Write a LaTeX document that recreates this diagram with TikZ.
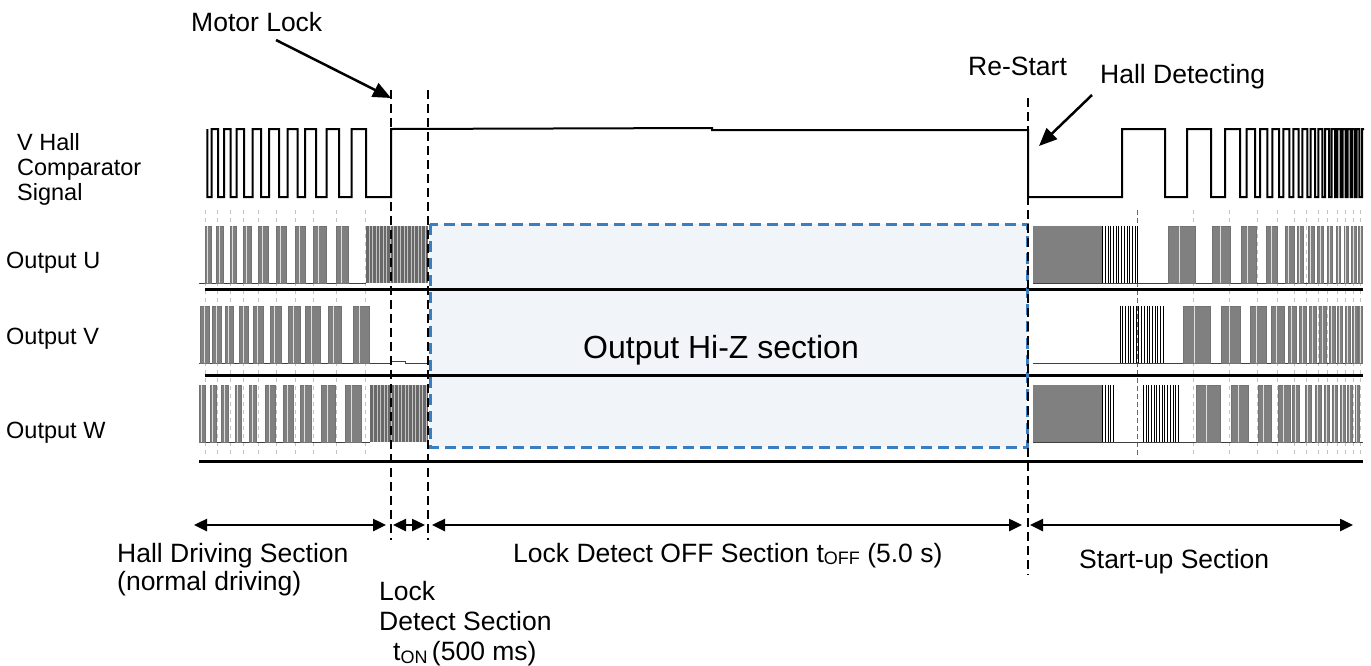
\documentclass[tikz,border=0pt]{standalone}
\usepackage{fontspec}
\setmainfont{Liberation Sans}
\usetikzlibrary{arrows.meta}
\definecolor{pwmgray}{RGB}{128,128,128}
\definecolor{densegray}{RGB}{105,105,105}
\definecolor{hizfill}{RGB}{241,245,250}
\definecolor{hizblue}{RGB}{58,125,192}
\definecolor{gridgray}{RGB}{195,195,195}
% #1 top, #2 bottom, #3 list a/b
\newcommand{\pwmrow}[3]{\foreach \a/\b in {#3}{%
  \filldraw[pwmburst] (\a,#1) rectangle (\b,#2);
  \draw[pwmhi] ({\a+0.4*(\b-\a)},#1) -- ({\a+0.4*(\b-\a)},#2);}}
% #1 top, #2 bottom, #3 a, #4 b : black line block
\newcommand{\lineblk}[4]{\pgfmathtruncatemacro{\nlinesblk}{(#4-#3)/2.7}%
  \foreach \i in {0,...,\nlinesblk}{\draw[blkline] ({#3+\i*2.7},#1) -- ({#3+\i*2.7},#2);}}
% #1 top, #2 bottom, #3 a, #4 b : dense gray block
\newcommand{\denseblk}[4]{\fill[densegray] (#3,#1) rectangle (#4,#2);
  \pgfmathtruncatemacro{\ndenseblk}{(#4-#3)/3.5}%
  \foreach \i in {1,...,\ndenseblk}{\draw[densehi] ({#3+\i*3.5},#1) -- ({#3+\i*3.5},#2);}}
\begin{document}
\begin{tikzpicture}[x=1pt,y=-1pt,
  sig/.style={line width=2pt,black,line join=miter},
  sep/.style={line width=3pt,black},
  base/.style={line width=1pt,black!75},
  vdash/.style={line width=2pt,black,dash pattern=on 9pt off 5pt},
  gridln/.style={line width=0.7pt,gridgray,dash pattern=on 4pt off 4pt},
  gridlndark/.style={line width=0.9pt,black!60,dash pattern=on 5pt off 3pt},
  pwmburst/.style={fill=pwmgray,draw=black!55,line width=0.5pt},
  pwmhi/.style={line width=0.7pt,white!75!pwmgray},
  blkline/.style={line width=0.9pt,black},
  densehi/.style={line width=0.6pt,white!60!densegray},
  hizbox/.style={draw=hizblue,fill=hizfill,line width=3pt,dash pattern=on 11pt off 6pt},
  dim/.style={line width=2.5pt,{Triangle[length=13pt,width=12pt]}-{Triangle[length=13pt,width=12pt]}},
  ann/.style={line width=2.5pt,-{Triangle[length=18pt,width=15pt]}},
  lblbig/.style={anchor=base west,inner sep=0pt,font=\fontsize{26.5}{30}\selectfont},
  lblsm/.style={anchor=base west,inner sep=0pt,font=\fontsize{23.5}{27}\selectfont},
  lblhiz/.style={anchor=base west,inner sep=0pt,font=\fontsize{32}{36}\selectfont}]
\useasboundingbox (0,0) rectangle (1371,665);

% Hi-Z box fill
\fill[hizfill] (430,224) rectangle (1027,447);

% faint grid lines
\foreach \x in {205,217.3,230,243.3,258.3,276,295,313.3,336.7,365.7,1193,1229,1257,1277,1294,1306,1318,1327,1337,1345,1353,1360}
  {\draw[gridln] (\x,210) -- (\x,458);}
\draw[gridlndark] (1137,210) -- (1137,458);

% ---------- Output U (226..283)
\draw[base] (199,283) -- (366,283);
\pwmrow{226}{283}{205/211.7,216.7/223.3,230/236.7,243.3/251.7,258.3/268.3,276/286.7,295/305,313.3/326.7,336.7/348.3}
\denseblk{226}{283}{365.7}{428}
\draw[base] (1033,283) -- (1363,283);
\fill[pwmgray] (1032.7,226) rectangle (1102.7,283);
\lineblk{226}{283}{1102.7}{1138.3}
\pwmrow{226}{283}{1168.3/1195,1212.7/1230.7,1241.7/1256.7,1266.7/1277.7,1285/1294,1297.3/1303.3,1308.3/1314,1317.7/1323.3,1327.3/1332.3,1336/1340.7,1344/1348.3,1351.7/1356,1358.3/1362.7}

% ---------- Output V (306..363)
\draw[base] (199,363) -- (391,363) -- (391,361.5) -- (405,361.5) -- (405,363) -- (428,363);
\pwmrow{306}{363}{200.7/209.3,212.7/221.7,225/233.3,239.3/248.3,253.3/263.3,270/281.7,288.3/300,305/320,328.3/341.7,353.3/369.3}
\draw[base] (1033,363) -- (1363,363);
\lineblk{306}{363}{1120}{1163.3}
\pwmrow{306}{363}{1183.3/1210,1221.7/1240.7,1250/1266,1271.7/1284,1288.3/1296,1299.3/1306,1309.3/1316,1319.3/1326,1329.3/1335,1337.3/1342.7,1345/1350,1352.7/1357.7,1358.3/1362.7}

% ---------- Output W (385..442)
\draw[base] (199,442) -- (370,442);
\pwmrow{385}{442}{199.3/205,210/216,221.7/228.3,235/241.7,249.3/256.7,265/275,283.3/293.3,300/311.7,321.7/335,345/361.7}
\denseblk{385}{442}{370}{428}
\draw[base] (1033,442) -- (1363,442);
\fill[pwmgray] (1032.7,385) rectangle (1102.7,442);
\lineblk{385}{442}{1102.7}{1115}
\lineblk{385}{442}{1143.3}{1180}
\pwmrow{385}{442}{1196.7/1220,1231.7/1248.3,1258.3/1271.7,1278.3/1290,1292.7/1299.3,1305/1311.7,1315/1321,1324/1329.3,1332.7/1337.3,1340/1345,1347.7/1352.3,1355/1359.3}

% separators
\draw[sep] (205,289) -- (1363,289);
\draw[sep] (205,375) -- (1363,375);
\draw[sep] (199,461) -- (1363,461);

% Hi-Z box border and text
\draw[hizbox,fill=none] (430,224) rectangle (1027,447);
\node[lblhiz] (hiz) at (583,358) {Output Hi-Z section};

% ---------- V Hall comparator signal
\draw[sig] (207.3,129)
  \foreach \f/\r in {207.3/211.7,218/224,230.5/236.7,244.2/252.5,261/269,279/287.5,297.5/305,316/326.7,339/351.7,366/391}
   { -- (\f,129) -- (\f,197) -- (\r,197) -- (\r,129) }
  -- (712,128) -- (712,130) -- (1028,130) -- (1028,197) -- (1120,197)
  \foreach \r/\f in {1122/1165,1187/1211,1225/1240,1246.7/1255,1260/1267.3,1272.3/1279,1283.3/1289.3,1293.3/1298.7,1302.3/1307.3,1310.7/1315,1318.3/1322.3,1325/1329,1331.7/1335,1337.3/1340.7,1342.7/1345.7,1347.7/1350.7,1352.3/1355,1356.7/1359.3}
   { -- (\r,197) -- (\r,129) -- (\f,129) -- (\f,197) }
  -- (1362,197) -- (1362,129) -- (1364,129);

% ---------- dashed time markers
\coordinate (lockT) at (391,90);   \coordinate (lockB) at (391,540);
\coordinate (detT) at (428,90);    \coordinate (detB) at (428,540);
\coordinate (rsT) at (1028,98);    \coordinate (rsB) at (1028,575);
\draw[vdash] (lockT) -- (lockB);
\draw[vdash] (detT) -- (detB);
\draw[vdash] (rsT) -- (rsB);

% ---------- dimension arrows
\coordinate (hdL) at (194,525);  \coordinate (hdR) at (386,525);
\coordinate (ldL) at (393,525);  \coordinate (ldR) at (425,525);
\coordinate (loL) at (432,525);  \coordinate (loR) at (1022,525);
\coordinate (suL) at (1030,525); \coordinate (suR) at (1353,525);
\draw[dim] (hdL) -- (hdR);
\draw[dim] (ldL) -- (ldR);
\draw[dim] (loL) -- (loR);
\draw[dim] (suL) -- (suR);

% ---------- annotations
\node[lblbig] (motorlock) at (191,31) {Motor Lock};
\coordinate (mlTail) at (276,40); \coordinate (mlTip) at (391,98);
\draw[ann] (mlTail) -- (mlTip);
\node[lblbig] (restart) at (968,75) {Re-Start};
\node[lblbig] (halldet) at (1100,83) {Hall Detecting};
\coordinate (hdTail) at (1092,95); \coordinate (hdTip) at (1039,146);
\draw[ann] (hdTail) -- (hdTip);

% ---------- left labels
\node[lblsm] (vh1) at (17,150) {V Hall};
\node[lblsm] (vh2) at (17,175) {Comparator};
\node[lblsm] (vh3) at (17,200) {Signal};
\node[lblsm] (outu) at (6,268) {Output U};
\node[lblsm] (outv) at (6,344) {Output V};
\node[lblsm] (outw) at (6,438) {Output W};

% ---------- bottom labels
\node[lblbig] (hds1) at (117,562) {Hall Driving Section};
\node[lblbig] (hds2) at (117,590) {(normal driving)};
\node[lblbig] (lds1) at (379,600) {Lock};
\node[lblbig] (lds2) at (379,630) {Detect Section};
\node[lblbig] (lds3) at (393,660) {t\raisebox{-3pt}{\fontsize{18}{18}\selectfont ON}\,(500 ms)};
\node[lblbig] (lockoff) at (513,562) {Lock Detect OFF Section t\raisebox{-2pt}{\fontsize{18}{18}\selectfont OFF} (5.0 s)};
\node[lblbig] (startup) at (1079,568) {Start-up Section};
\end{tikzpicture}
\end{document}
